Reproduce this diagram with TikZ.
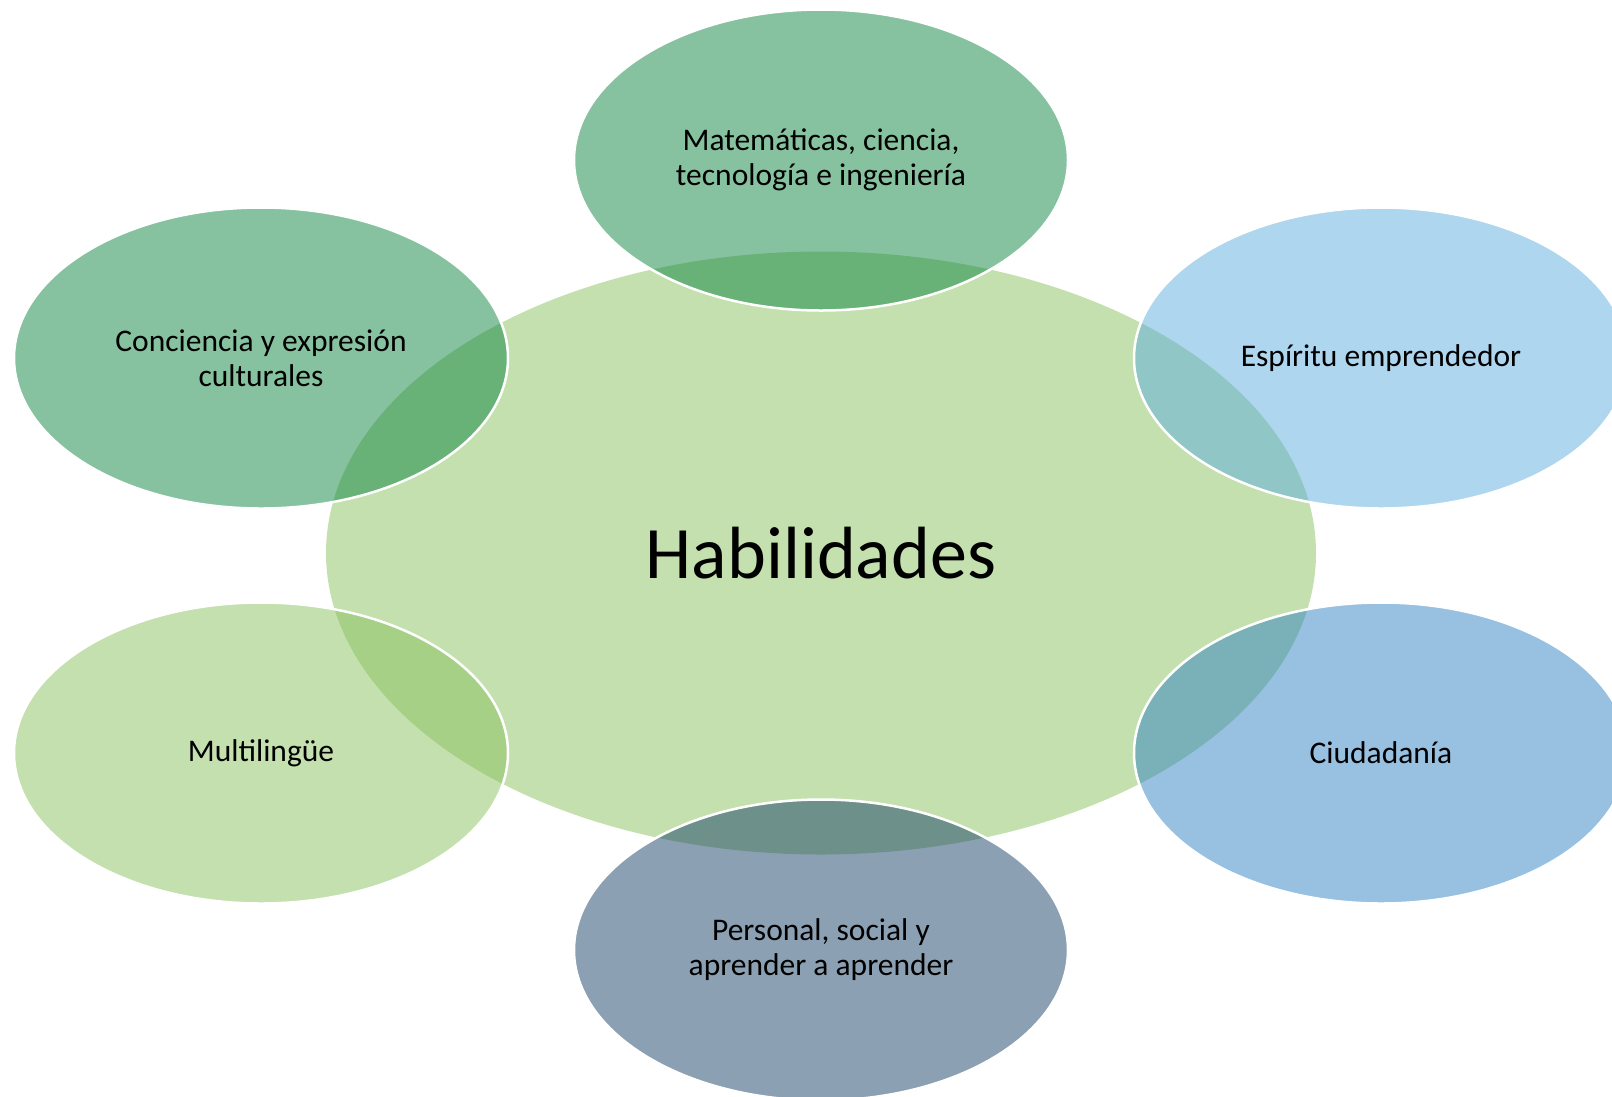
\documentclass[tikz,border=0pt]{standalone}
\usepackage{fontspec}
\setmainfont{Carlito}
\usetikzlibrary{shapes.geometric}
\definecolor{hubgreen}{HTML}{C4E0AE}
\definecolor{petalgreen}{HTML}{0D8541}
\definecolor{petallime}{HTML}{89C15D}
\definecolor{petalsky}{HTML}{5DADDD}
\definecolor{petalblue}{HTML}{3183C3}
\definecolor{petalslate}{HTML}{194167}
\tikzset{
skill hub/.style={
  ellipse,
  fill=hubgreen,
  minimum width=990pt,
  minimum height=603pt,
  inner sep=0pt,
  font=\fontsize{74}{89}\selectfont
},
skill petal/.style={
  ellipse,
  draw=white,
  line width=2.5pt,
  fill opacity=0.5,
  text opacity=1,
  minimum width=494pt,
  minimum height=301pt,
  inner sep=0pt,
  align=center,
  font=\fontsize{31.5}{35}\selectfont
}
}

\begin{document}
\begin{tikzpicture}[x=1pt,y=-1pt]
\clip (0,0) rectangle (1612,1096);
\node[skill hub] (hub) at (821,553) {Habilidades};
\node[skill petal,fill=petalgreen] (stem) at (821,160) {Matemáticas, ciencia,\\tecnología e ingeniería};
\node[skill petal,fill=petalsky] (entre) at (1381,358) {Espíritu emprendedor};
\node[skill petal,fill=petalblue] (ciud) at (1381,753) {Ciudadanía};
\node[skill petal,fill=petalslate] (pers) at (821,950) {Personal, social y\\aprender a aprender};
\node[skill petal,fill=petallime] (multi) at (261,753) {Multilingüe};
\node[skill petal,fill=petalgreen] (cult) at (261,358) {Conciencia y expresión\\culturales};
\end{tikzpicture}
\end{document}
